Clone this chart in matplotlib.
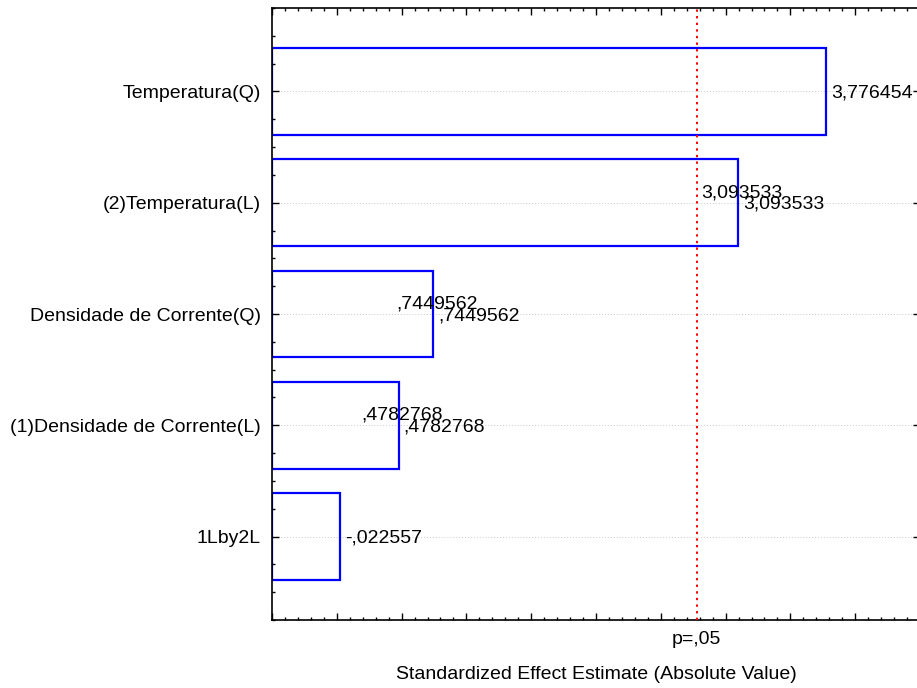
import numpy as np
import matplotlib
matplotlib.use("Agg")
import matplotlib.pyplot as plt
from matplotlib.ticker import MultipleLocator

# Efeitos padronizados (Pareto), ordem de cima para baixo
efeitos = ["Temperatura(Q)", "(2)Temperatura(L)", "Densidade de Corrente(Q)",
           "(1)Densidade de Corrente(L)", "1Lby2L"]
valores = [3.776454, 3.093533, 0.7449562, 0.4782768, -0.022557]
rotulos = ["3,776454", "3,093533", ",7449562", ",4782768", "-,022557"]
duplicados = [False, True, True, True, False]
t_critico = 2.776  # p=,05

plt.rcParams['font.family'] = ['Liberation Sans', 'DejaVu Sans']
fs = 14

fig = plt.figure(figsize=(9.17, 6.88), dpi=100)
largura_px = 648
ax = fig.add_axes([272 / 917, 68 / 688, largura_px / 917, 612 / 688])

xmin, xmax = -0.5, 4.5
y = np.arange(len(efeitos))
absolutos = np.abs(valores)

# linhas de grade horizontais nas categorias
for yi in y:
    ax.axhline(yi, color='#c8c8c8', linestyle=(0, (1, 2)), linewidth=0.7, zorder=0)

ax.barh(y, absolutos + (0 - xmin), left=xmin, height=0.78,
        facecolor='none', edgecolor='#0000ff', linewidth=1.6, zorder=2)

ax.axvline(t_critico, color='#ff0000', linestyle=(0, (1.2, 2.2)), linewidth=1.4, zorder=3)

escala = largura_px / (xmax - xmin)  # px por unidade
for yi, v, r, d in zip(y, absolutos, rotulos, duplicados):
    ax.text(v + 5 / escala, yi + 0.015, r, ha='left', va='center', fontsize=fs, zorder=4)
    if d:
        ax.text(v - 37 / escala, yi - 0.09, r, ha='left', va='center', fontsize=fs, zorder=4)

ax.set_xlim(xmin, xmax)
ax.set_ylim(len(efeitos) - 0.25, -0.75)

ax.set_yticks(y)
ax.set_yticklabels(efeitos, fontsize=fs)
ax.yaxis.set_minor_locator(MultipleLocator(0.25))
ax.xaxis.set_major_locator(MultipleLocator(0.5))
ax.xaxis.set_minor_locator(MultipleLocator(0.1))
ax.tick_params(axis='both', which='both', direction='in', top=True, right=True,
               width=1.0, color='black')
ax.tick_params(axis='both', which='major', length=5)
ax.tick_params(axis='both', which='minor', length=2.5)
ax.tick_params(axis='y', which='major', pad=8)
ax.tick_params(axis='x', labelbottom=False)

for s in ax.spines.values():
    s.set_linewidth(1.2)

ax.text(t_critico, -0.018, "p=,05", transform=ax.get_xaxis_transform(),
        ha='center', va='top', fontsize=fs)
ax.set_xlabel("Standardized Effect Estimate (Absolute Value)", fontsize=fs, labelpad=30)

fig.savefig("out.png", dpi=100)
